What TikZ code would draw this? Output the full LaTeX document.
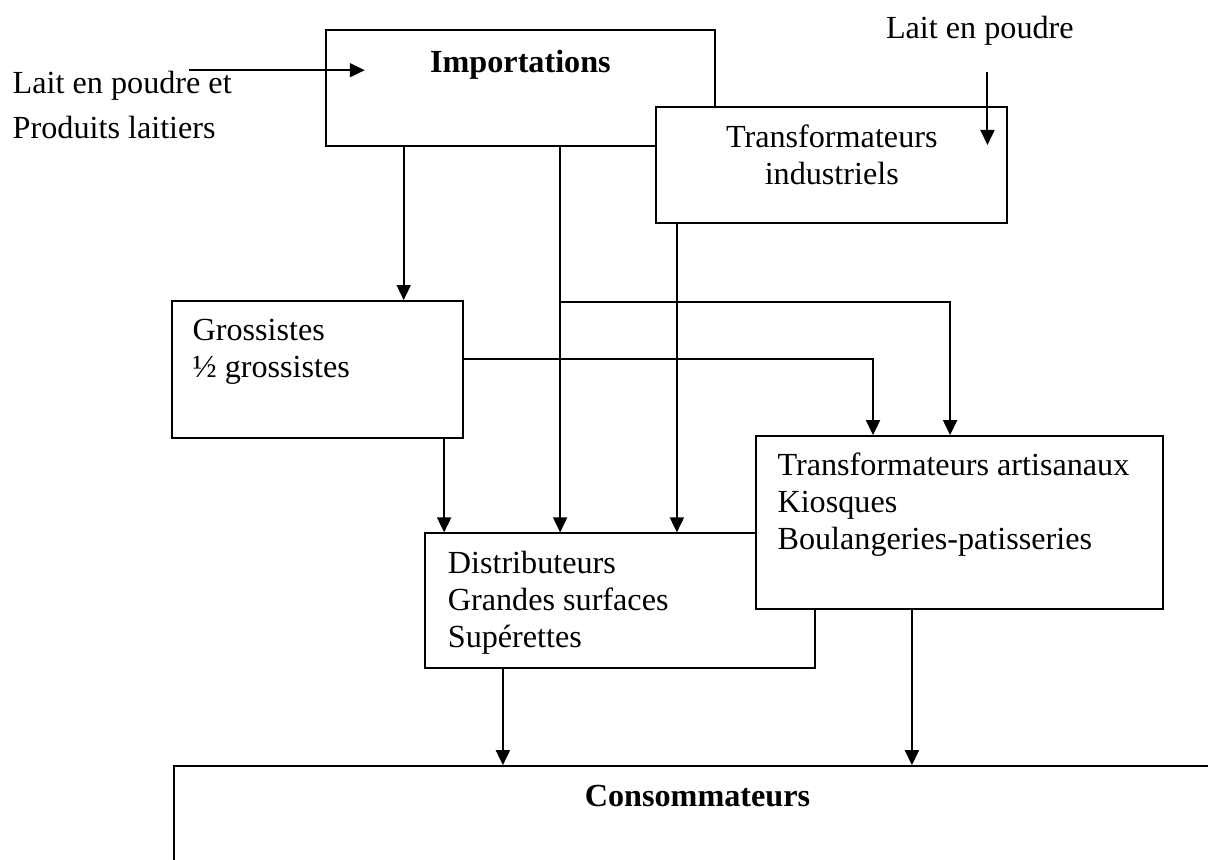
\documentclass[tikz,border=0pt]{standalone}
\usepackage{fontspec}
\setmainfont{Liberation Serif}
\usepackage{tikz}
\usetikzlibrary{arrows.meta,positioning}

\begin{document}
\begin{tikzpicture}[
  box/.style={rectangle, line width=0.75pt, draw, fill=white, inner sep=0pt},
  txt/.style={inner sep=0pt, font=\fontsize{12pt}{13.8pt}\selectfont},
  arr/.style={-{Triangle[length=5.6pt, width=5.2pt]}, line width=0.75pt}]
\useasboundingbox (0,0) rectangle (15.83,-11.26);

% boxes
\draw (6.82,-1.15) node[box, minimum width=5.09cm, minimum height=1.52cm] (imp) {};
\draw (10.90,-2.16) node[box, minimum width=4.60cm, minimum height=1.52cm] (indus) {};
\draw (4.16,-4.84) node[box, minimum width=3.82cm, minimum height=1.79cm] (gros) {};
\draw (8.13,-7.87) node[box, minimum width=5.11cm, minimum height=1.76cm] (distr) {};
\draw (12.57,-6.85) node[box, minimum width=5.33cm, minimum height=2.27cm] (artis) {};
\draw (9.14,-10.92) node[box, minimum width=13.73cm, minimum height=1.76cm] (conso) {};

% box texts
\node[txt, below=0.27cm of imp.north] (imptxt) {\textbf{Importations}};
\node[txt, align=center, below=0.24cm of indus.north] (indtxt) {Transformateurs\\industriels};
\node[txt, align=left, below right=0.24cm and 0.28cm of gros.north west] (grostxt) {Grossistes\\½ grossistes};
\node[txt, align=left, below right=0.24cm and 0.30cm of distr.north west] (distxt) {Distributeurs\\Grandes surfaces\\Supérettes};
\node[txt, align=left, below right=0.22cm and 0.29cm of artis.north west] (arttxt) {Transformateurs artisanaux\\Kiosques\\Boulangeries-patisseries};
\node[txt, below=0.26cm of conso.north] (contxt) {\textbf{Consommateurs}};

% inputs
\node[txt, align=left, anchor=north west] (laittxt) at (0.16,-0.93) {Lait en poudre et\\[3pt]Produits laitiers};
\node[txt, anchor=north] (poudretxt) at (12.84,-0.21) {Lait en poudre};
\coordinate (in1) at (2.48,-0.92);
\coordinate (in2) at (4.78,-0.92);
\coordinate (pd1) at (12.94,-0.94);
\coordinate (pd2) at (12.94,-1.90);
\draw[arr] (in1) -- (in2);
\draw[arr] (pd1) -- (pd2);

% flows
\coordinate (xa) at (5.29,0);
\coordinate (xb) at (7.34,0);
\coordinate (xc) at (8.87,0);
\coordinate (xd) at (5.82,0);
\coordinate (xe) at (11.44,0);
\coordinate (xf) at (12.45,0);
\coordinate (xg) at (6.59,0);
\coordinate (xh) at (11.95,0);
\coordinate (yb) at (0,-3.96);
\coordinate (yg) at (0,-4.71);

\draw[arr] (xa |- imp.south) -- (xa |- gros.north);
\draw[arr] (xb |- imp.south) -- (xb |- distr.north);
\draw[arr] (xc |- indus.south) -- (xc |- distr.north);
\draw[arr] (xd |- gros.south) -- (xd |- distr.north);
\draw[arr] (xb |- yb) -| (xf |- artis.north);
\draw[arr] (gros.east |- yg) -| (xe |- artis.north);
\draw[arr] (xg |- distr.south) -- (xg |- conso.north);
\draw[arr] (xh |- artis.south) -- (xh |- conso.north);

\end{tikzpicture}
\end{document}
